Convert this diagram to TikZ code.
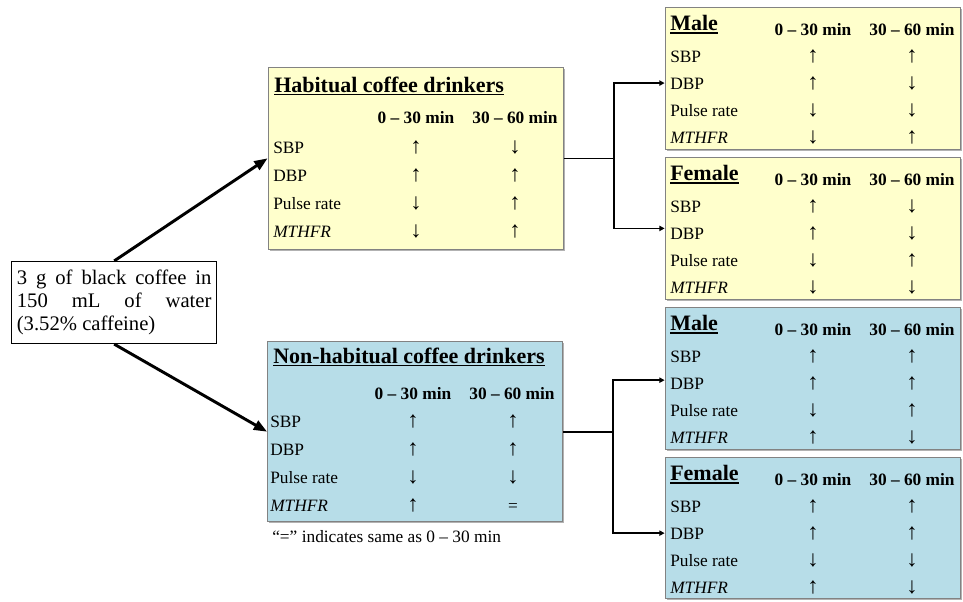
\documentclass[tikz,border=0pt]{standalone}
\usepackage{fontspec}
\setmainfont{Liberation Serif}
\usepackage{xcolor}
\definecolor{habyellow}{RGB}{255, 255, 204}
\definecolor{nonblue}{RGB}{183, 221, 232}
\definecolor{panelgray}{RGB}{130, 130, 130}
\usetikzlibrary{
  arrows.meta,
  positioning,
  fit,
  shadows
}
\newcommand{\up}{{\fontsize{17}{17}\selectfont ↑}}
\newcommand{\dn}{{\fontsize{17}{17}\selectfont ↓}}
\newcommand{\ttlline}[1]{\setbox0\hbox{#1}\rlap{\rule[-2.6pt]{\wd0}{1.1pt}}\box0}

\begin{document}
\begin{tikzpicture}[x=0.75pt, y=-0.75pt,
  panel/.style={inner sep=0pt, draw=panelgray, line width=0.6pt,
    drop shadow={shadow xshift=1.2pt, shadow yshift=-1.2pt, opacity=0.3, fill=black}},
  ttl/.style={anchor=base west, inner sep=0pt, font=\fontsize{16.5}{18}\selectfont\bfseries},
  hdr/.style={anchor=base, inner sep=0pt, font=\fontsize{13}{15}\selectfont\bfseries},
  lab/.style={anchor=base west, inner sep=0pt, font=\fontsize{13}{15}\selectfont},
  val/.style={anchor=base, inner sep=0pt, font=\fontsize{13}{15}\selectfont},
  main/.style={line width=2.2pt, -{Triangle[length=10pt, width=7.5pt]}},
  link/.style={line width=1.2pt},
  tip/.style={link, -{Triangle[length=4pt, width=4pt]}}]

  \useasboundingbox (0, 0) rectangle (963, 601);

  % starting point
  \node[draw, line width=0.9pt, fill=white, minimum width=153.75pt, minimum height=61.5pt,
        text width=146pt, align=left, inner xsep=0pt,
        font=\fontsize{15.5}{17}\selectfont] (src) at (114.2, 302.5)
    {\spaceskip=0pt \xspaceskip=0pt
     \makebox[146pt][s]{3 g of black coffee in}\\
     \makebox[146pt][s]{150 mL of water}\\
     (3.52\% caffeine)};

  % habitual drinkers
  \node[panel, fill=habyellow, fit={(268, 67.3) (563.3, 249.3)}] (hab) {};
  \node[ttl] (hab-t) at (274, 92) {\ttlline{Habitual coffee drinkers}};
  \node[hdr] (hab-h1) at (416, 123) {0 – 30 min};
  \node[hdr] (hab-h2) at (515, 123) {30 – 60 min};
  \foreach \lab/\a/\b [count=\i from 0] in {SBP/\up/\dn, DBP/\up/\up, Pulse rate/\dn/\up, \textit{MTHFR}/\dn/\up} {
    \node[lab] (hab-l\i) at (273, 153+28*\i) {\lab};
    \node[val] (hab-a\i) at (416, 153+28*\i) {\a};
    \node[val] (hab-b\i) at (515, 153+28*\i) {\b};
  }

  % non-habitual drinkers
  \node[panel, fill=nonblue, fit={(267.5, 341.7) (562.7, 521.7)}] (non) {};
  \node[ttl] (non-t) at (273, 363) {\ttlline{Non-habitual coffee drinkers}};
  \node[hdr] (non-h1) at (413, 399) {0 – 30 min};
  \node[hdr] (non-h2) at (512, 399) {30 – 60 min};
  \foreach \lab/\a/\b [count=\i from 0] in {SBP/\up/\up, DBP/\up/\up, Pulse rate/\dn/\dn, \textit{MTHFR}/\up/=} {
    \node[lab] (non-l\i) at (270, 427+28.3*\i) {\lab};
    \node[val] (non-a\i) at (413, 427+28.3*\i) {\a};
    \node[val] (non-b\i) at (513, 427+28.3*\i) {\b};
  }
  \node[lab] (note) at (272, 542) {“=” indicates same as 0 – 30 min};

  % habitual, by sex
  \node[panel, fill=habyellow, fit={(665, 7.3) (960, 149.5)}] (hm) {};
  \node[ttl] (hm-t) at (670, 30.3) {\ttlline{Male}};
  \node[hdr] (hm-h1) at (813, 35.3) {0 – 30 min};
  \node[hdr] (hm-h2) at (912, 35.3) {30 – 60 min};
  \foreach \lab/\a/\b [count=\i from 0] in {SBP/\up/\up, DBP/\up/\dn, Pulse rate/\dn/\dn, \textit{MTHFR}/\dn/\up} {
    \node[lab] (hm-l\i) at (670, 62.8+26.8*\i) {\lab};
    \node[val] (hm-a\i) at (813, 62.8+26.8*\i) {\a};
    \node[val] (hm-b\i) at (912, 62.8+26.8*\i) {\b};
  }

  \node[panel, fill=habyellow, fit={(665, 157.3) (960, 299.5)}] (hf) {};
  \node[ttl] (hf-t) at (670, 180.3) {\ttlline{Female}};
  \node[hdr] (hf-h1) at (813, 185.3) {0 – 30 min};
  \node[hdr] (hf-h2) at (912, 185.3) {30 – 60 min};
  \foreach \lab/\a/\b [count=\i from 0] in {SBP/\up/\dn, DBP/\up/\dn, Pulse rate/\dn/\up, \textit{MTHFR}/\dn/\dn} {
    \node[lab] (hf-l\i) at (670, 212.8+26.8*\i) {\lab};
    \node[val] (hf-a\i) at (813, 212.8+26.8*\i) {\a};
    \node[val] (hf-b\i) at (912, 212.8+26.8*\i) {\b};
  }

  % non-habitual, by sex
  \node[panel, fill=nonblue, fit={(665, 307.3) (960, 449)}] (bm) {};
  \node[ttl] (bm-t) at (670, 330.3) {\ttlline{Male}};
  \node[hdr] (bm-h1) at (813, 335.3) {0 – 30 min};
  \node[hdr] (bm-h2) at (912, 335.3) {30 – 60 min};
  \foreach \lab/\a/\b [count=\i from 0] in {SBP/\up/\up, DBP/\up/\up, Pulse rate/\dn/\up, \textit{MTHFR}/\up/\dn} {
    \node[lab] (bm-l\i) at (670, 362.8+26.8*\i) {\lab};
    \node[val] (bm-a\i) at (813, 362.8+26.8*\i) {\a};
    \node[val] (bm-b\i) at (912, 362.8+26.8*\i) {\b};
  }

  \node[panel, fill=nonblue, fit={(665, 457.3) (960, 598.3)}] (bf) {};
  \node[ttl] (bf-t) at (670, 480.3) {\ttlline{Female}};
  \node[hdr] (bf-h1) at (813, 485.3) {0 – 30 min};
  \node[hdr] (bf-h2) at (912, 485.3) {30 – 60 min};
  \foreach \lab/\a/\b [count=\i from 0] in {SBP/\up/\up, DBP/\up/\up, Pulse rate/\dn/\dn, \textit{MTHFR}/\up/\dn} {
    \node[lab] (bf-l\i) at (670, 512.8+26.8*\i) {\lab};
    \node[val] (bf-a\i) at (813, 512.8+26.8*\i) {\a};
    \node[val] (bf-b\i) at (912, 512.8+26.8*\i) {\b};
  }

  % connectors
  \draw[main] (src.north) -- (hab.west);
  \draw[main] (src.south) -- (non.west);

  \coordinate (hj) at ([xshift=37.5pt]hab.east);
  \draw[link] (hab.east) -- (hj);
  \draw[tip] (hj) |- ([yshift=-3.5pt]hm.west);
  \draw[tip] (hj) |- (hf.west);

  \coordinate (nj) at ([xshift=37.5pt]non.east);
  \draw[link] (non.east) -- (nj);
  \draw[tip] (nj) |- ([yshift=-1.5pt]bm.west);
  \draw[tip] (nj) |- ([yshift=-4pt]bf.west);

\end{tikzpicture}
\end{document}
